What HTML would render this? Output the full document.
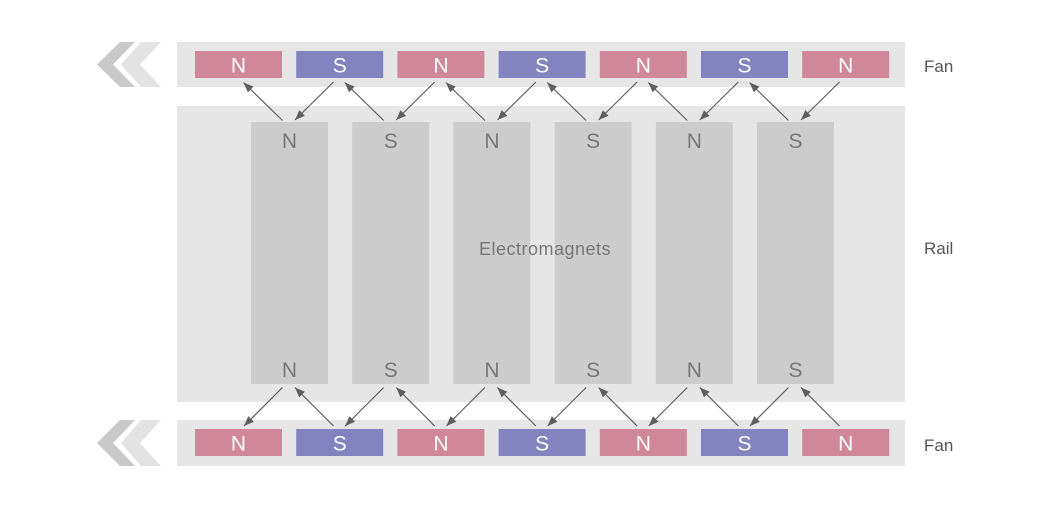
<!DOCTYPE html>
<html>
<head>
<meta charset="utf-8">
<style>
html,body{margin:0;padding:0;background:#ffffff;}
svg{display:block;}
text{font-family:"Liberation Sans",sans-serif;}
</style>
</head>
<body>
<svg width="1050" height="508" viewBox="0 0 1050 508" xmlns="http://www.w3.org/2000/svg">
<defs>
<marker id="ah" markerUnits="userSpaceOnUse" markerWidth="11" markerHeight="8" refX="10" refY="4" orient="auto">
<path d="M0,0 L10,4 L0,8 z" fill="#5e5e5e"/>
</marker>
</defs>
<rect x="0" y="0" width="1050" height="508" fill="#ffffff"/>

<!-- chevrons top -->
<polygon points="120,42 135,42 113,64.5 135,87 120,87 97,64.5" fill="#c9c9c9"/>
<polygon points="141,42 161,42 140,64.5 161,87 141,87 121,64.5" fill="#e3e3e3"/>
<!-- chevrons bottom -->
<polygon points="120,420 135,420 113,443 135,466 120,466 97,443" fill="#c9c9c9"/>
<polygon points="141,420 161,420 140,443 161,466 141,466 121,443" fill="#e3e3e3"/>

<!-- bands -->
<rect x="177" y="42" width="728" height="45" fill="#e6e6e6"/>
<rect x="177" y="106" width="728" height="296" fill="#e6e6e6"/>
<rect x="177" y="420" width="728" height="46" fill="#e6e6e6"/>

<!-- top magnets -->
<g>
<rect x="195" y="51" width="87" height="27" fill="#d0879a"/>
<rect x="296.2" y="51" width="87" height="27" fill="#8383c0"/>
<rect x="397.4" y="51" width="87" height="27" fill="#d0879a"/>
<rect x="498.6" y="51" width="87" height="27" fill="#8383c0"/>
<rect x="599.8" y="51" width="87" height="27" fill="#d0879a"/>
<rect x="701" y="51" width="87" height="27" fill="#8383c0"/>
<rect x="802.2" y="51" width="87" height="27" fill="#d0879a"/>
</g>
<g font-size="21" fill="#ffffff" text-anchor="middle">
<text x="238.5" y="72.5">N</text>
<text x="339.7" y="72.5">S</text>
<text x="440.9" y="72.5">N</text>
<text x="542.1" y="72.5">S</text>
<text x="643.3" y="72.5">N</text>
<text x="744.5" y="72.5">S</text>
<text x="845.7" y="72.5">N</text>
</g>

<!-- bottom magnets -->
<g>
<rect x="195" y="429" width="87" height="27" fill="#d0879a"/>
<rect x="296.2" y="429" width="87" height="27" fill="#8383c0"/>
<rect x="397.4" y="429" width="87" height="27" fill="#d0879a"/>
<rect x="498.6" y="429" width="87" height="27" fill="#8383c0"/>
<rect x="599.8" y="429" width="87" height="27" fill="#d0879a"/>
<rect x="701" y="429" width="87" height="27" fill="#8383c0"/>
<rect x="802.2" y="429" width="87" height="27" fill="#d0879a"/>
</g>
<g font-size="21" fill="#ffffff" text-anchor="middle">
<text x="238.5" y="450.5">N</text>
<text x="339.7" y="450.5">S</text>
<text x="440.9" y="450.5">N</text>
<text x="542.1" y="450.5">S</text>
<text x="643.3" y="450.5">N</text>
<text x="744.5" y="450.5">S</text>
<text x="845.7" y="450.5">N</text>
</g>

<!-- electromagnets -->
<g fill="#cccccc">
<rect x="251" y="122" width="77" height="262"/>
<rect x="352.2" y="122" width="77" height="262"/>
<rect x="453.4" y="122" width="77" height="262"/>
<rect x="554.6" y="122" width="77" height="262"/>
<rect x="655.8" y="122" width="77" height="262"/>
<rect x="757" y="122" width="77" height="262"/>
</g>
<g font-size="21" fill="#777777" text-anchor="middle">
<text x="289.5" y="148">N</text>
<text x="390.7" y="148">S</text>
<text x="491.9" y="148">N</text>
<text x="593.1" y="148">S</text>
<text x="694.3" y="148">N</text>
<text x="795.5" y="148">S</text>
<text x="289.5" y="377">N</text>
<text x="390.7" y="377">S</text>
<text x="491.9" y="377">N</text>
<text x="593.1" y="377">S</text>
<text x="694.3" y="377">N</text>
<text x="795.5" y="377">S</text>
</g>

<text x="545" y="255" font-size="18" letter-spacing="0.5" fill="#777777" text-anchor="middle">Electromagnets</text>

<!-- arrows -->
<g stroke="#5e5e5e" stroke-width="1.2" fill="none" marker-end="url(#ah)">
<line x1="282.5" y1="120.5" x2="243.5" y2="82.5"/>
<line x1="333.5" y1="82" x2="295" y2="120"/>
<line x1="282.5" y1="387.5" x2="244" y2="426"/>
<line x1="333.5" y1="426" x2="295" y2="387.5"/>

<line x1="383.7" y1="120.5" x2="344.7" y2="82.5"/>
<line x1="434.7" y1="82" x2="396.2" y2="120"/>
<line x1="383.7" y1="387.5" x2="345.2" y2="426"/>
<line x1="434.7" y1="426" x2="396.2" y2="387.5"/>

<line x1="484.9" y1="120.5" x2="445.9" y2="82.5"/>
<line x1="535.9" y1="82" x2="497.4" y2="120"/>
<line x1="484.9" y1="387.5" x2="446.4" y2="426"/>
<line x1="535.9" y1="426" x2="497.4" y2="387.5"/>

<line x1="586.1" y1="120.5" x2="547.1" y2="82.5"/>
<line x1="637.1" y1="82" x2="598.6" y2="120"/>
<line x1="586.1" y1="387.5" x2="547.6" y2="426"/>
<line x1="637.1" y1="426" x2="598.6" y2="387.5"/>

<line x1="687.3" y1="120.5" x2="648.3" y2="82.5"/>
<line x1="738.3" y1="82" x2="699.8" y2="120"/>
<line x1="687.3" y1="387.5" x2="648.8" y2="426"/>
<line x1="738.3" y1="426" x2="699.8" y2="387.5"/>

<line x1="788.5" y1="120.5" x2="749.5" y2="82.5"/>
<line x1="839.5" y1="82" x2="801" y2="120"/>
<line x1="788.5" y1="387.5" x2="750" y2="426"/>
<line x1="839.5" y1="426" x2="801" y2="387.5"/>
</g>

<!-- side labels -->
<g font-size="17" fill="#555555">
<text x="924" y="72">Fan</text>
<text x="924" y="254">Rail</text>
<text x="924" y="451">Fan</text>
</g>
</svg>
</body>
</html>
